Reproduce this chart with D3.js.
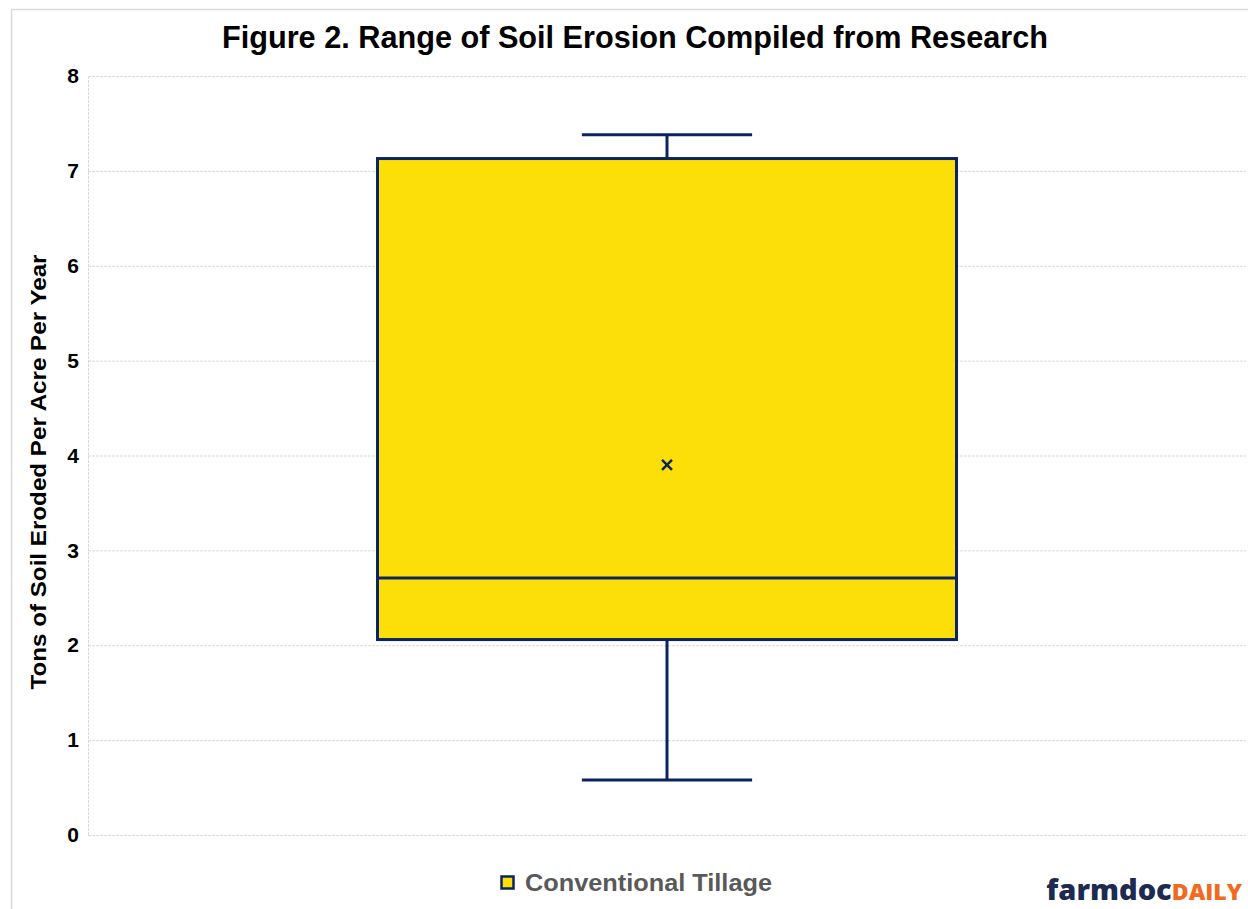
<!DOCTYPE html>
<html>
<head>
<meta charset="utf-8">
<script src="https://cdn.jsdelivr.net/npm/d3@7"></script>
<style>
  body { margin: 0; background: #fff; }
  text { font-family: "Liberation Sans", Arial, sans-serif; }
</style>
</head>
<body>
<div id="chart"></div>
<script>
const categories = ['Conventional Tillage'];
const whiskerLow = [0.58];
const q1 = [2.06];
const median = [2.71];
const q3 = [7.13];
const whiskerHigh = [7.38];
const means = [3.9];
const yTicks = [0, 1, 2, 3, 4, 5, 6, 7, 8];

const width = 1248, height = 909;
const margin = { top: 76, right: 2, bottom: 74, left: 88 };
const navy = '#0b2461';
const gold = '#fcdf08';

const svg = d3.select('#chart').append('svg')
  .attr('width', width)
  .attr('height', height);

// outer frame
svg.append('path')
  .attr('d', `M11.5,${height} V9.5 H${width}`)
  .attr('fill', 'none')
  .attr('stroke', '#d9d9d9')
  .attr('stroke-width', 1.5);

const y = d3.scaleLinear().domain([0, 8]).range([height - margin.bottom, margin.top]);
const x = d3.scaleBand().domain(categories).range([margin.left, width - margin.right]).paddingInner(0).paddingOuter(0.5);

// grid
svg.append('g')
  .selectAll('line')
  .data(yTicks)
  .join('line')
  .attr('x1', margin.left)
  .attr('x2', width - margin.right)
  .attr('y1', (d) => y(d) + 0.5)
  .attr('y2', (d) => y(d) + 0.5)
  .attr('stroke', '#d9d9d9')
  .attr('stroke-width', 1)
  .attr('stroke-dasharray', '3,1');

svg.append('line')
  .attr('x1', margin.left + 0.5).attr('x2', margin.left + 0.5)
  .attr('y1', y(8)).attr('y2', y(0))
  .attr('stroke', '#d9d9d9')
  .attr('stroke-dasharray', '3,1');

// y axis labels
const yAxis = svg.append('g')
  .attr('transform', `translate(${margin.left},0)`)
  .call(d3.axisLeft(y).tickValues(yTicks).tickSize(0).tickPadding(9));
yAxis.select('.domain').remove();
yAxis.selectAll('text')
  .attr('font-size', 21)
  .attr('font-weight', 'bold')
  .attr('fill', '#000')
  .style('font-family', '"Liberation Sans", Arial, sans-serif');

svg.append('text')
  .attr('transform', `translate(46,472) rotate(-90)`)
  .attr('text-anchor', 'middle')
  .attr('font-size', 22)
  .attr('font-weight', 'bold')
  .attr('fill', '#000')
  .attr('textLength', 435)
  .attr('lengthAdjust', 'spacingAndGlyphs')
  .text('Tons of Soil Eroded Per Acre Per Year');

// title
svg.append('text')
  .attr('x', 635)
  .attr('y', 48)
  .attr('text-anchor', 'middle')
  .attr('font-size', 32)
  .attr('font-weight', 'bold')
  .attr('fill', '#000')
  .attr('textLength', 826)
  .attr('lengthAdjust', 'spacingAndGlyphs')
  .text('Figure 2. Range of Soil Erosion Compiled from Research');

// boxes
const boxes = categories.map((c, i) => ({
  cat: c, lo: whiskerLow[i], q1: q1[i], med: median[i], q3: q3[i], hi: whiskerHigh[i], mean: means[i]
}));

const g = svg.append('g').selectAll('g').data(boxes).join('g');
const cx = (d) => x(d.cat) + x.bandwidth() / 2;
const capW = (d) => x.bandwidth() * 0.147;

g.append('line')
  .attr('x1', cx).attr('x2', cx)
  .attr('y1', (d) => y(d.hi)).attr('y2', (d) => y(d.q3))
  .attr('stroke', navy).attr('stroke-width', 3);
g.append('line')
  .attr('x1', cx).attr('x2', cx)
  .attr('y1', (d) => y(d.q1)).attr('y2', (d) => y(d.lo))
  .attr('stroke', navy).attr('stroke-width', 3);
g.append('line')
  .attr('x1', (d) => cx(d) - capW(d)).attr('x2', (d) => cx(d) + capW(d))
  .attr('y1', (d) => y(d.hi)).attr('y2', (d) => y(d.hi))
  .attr('stroke', navy).attr('stroke-width', 3);
g.append('line')
  .attr('x1', (d) => cx(d) - capW(d)).attr('x2', (d) => cx(d) + capW(d))
  .attr('y1', (d) => y(d.lo)).attr('y2', (d) => y(d.lo))
  .attr('stroke', navy).attr('stroke-width', 3);

g.append('rect')
  .attr('x', (d) => x(d.cat))
  .attr('width', x.bandwidth())
  .attr('y', (d) => y(d.q3))
  .attr('height', (d) => y(d.q1) - y(d.q3))
  .attr('fill', gold)
  .attr('stroke', navy)
  .attr('stroke-width', 3);

g.append('line')
  .attr('x1', (d) => x(d.cat)).attr('x2', (d) => x(d.cat) + x.bandwidth())
  .attr('y1', (d) => y(d.med)).attr('y2', (d) => y(d.med))
  .attr('stroke', navy).attr('stroke-width', 3);

// mean marker
g.append('path')
  .attr('transform', (d) => `translate(${cx(d)},${y(d.mean)})`)
  .attr('d', 'M-5,-5L5,5M-5,5L5,-5')
  .attr('stroke', navy)
  .attr('stroke-width', 2.5);

// legend
const legend = svg.append('g').attr('transform', 'translate(500,875)');
legend.append('rect')
  .attr('x', 1.5).attr('y', 1.5)
  .attr('width', 12).attr('height', 12)
  .attr('fill', gold)
  .attr('stroke', navy)
  .attr('stroke-width', 2.5);
legend.append('text')
  .attr('x', 25)
  .attr('y', 16)
  .attr('font-size', 23)
  .attr('font-weight', 'bold')
  .attr('fill', '#595959')
  .attr('textLength', 247)
  .attr('lengthAdjust', 'spacingAndGlyphs')
  .text(categories[0]);

// logo
const logo = svg.append('text')
  .attr('x', 1242)
  .attr('y', 900)
  .attr('text-anchor', 'end')
  .attr('font-weight', 'bold');
logo.append('tspan')
  .attr('font-size', 29)
  .attr('fill', '#1c2b4f')
  .style('font-family', '"Open Sans", sans-serif')
  .attr('font-weight', 800)
  .text('farmdoc');
logo.append('tspan')
  .attr('font-size', 23)
  .attr('fill', '#f26a1f')
  .style('font-family', '"Open Sans", sans-serif')
  .attr('font-weight', 800)
  .text('DAILY');
</script>
</body>
</html>
